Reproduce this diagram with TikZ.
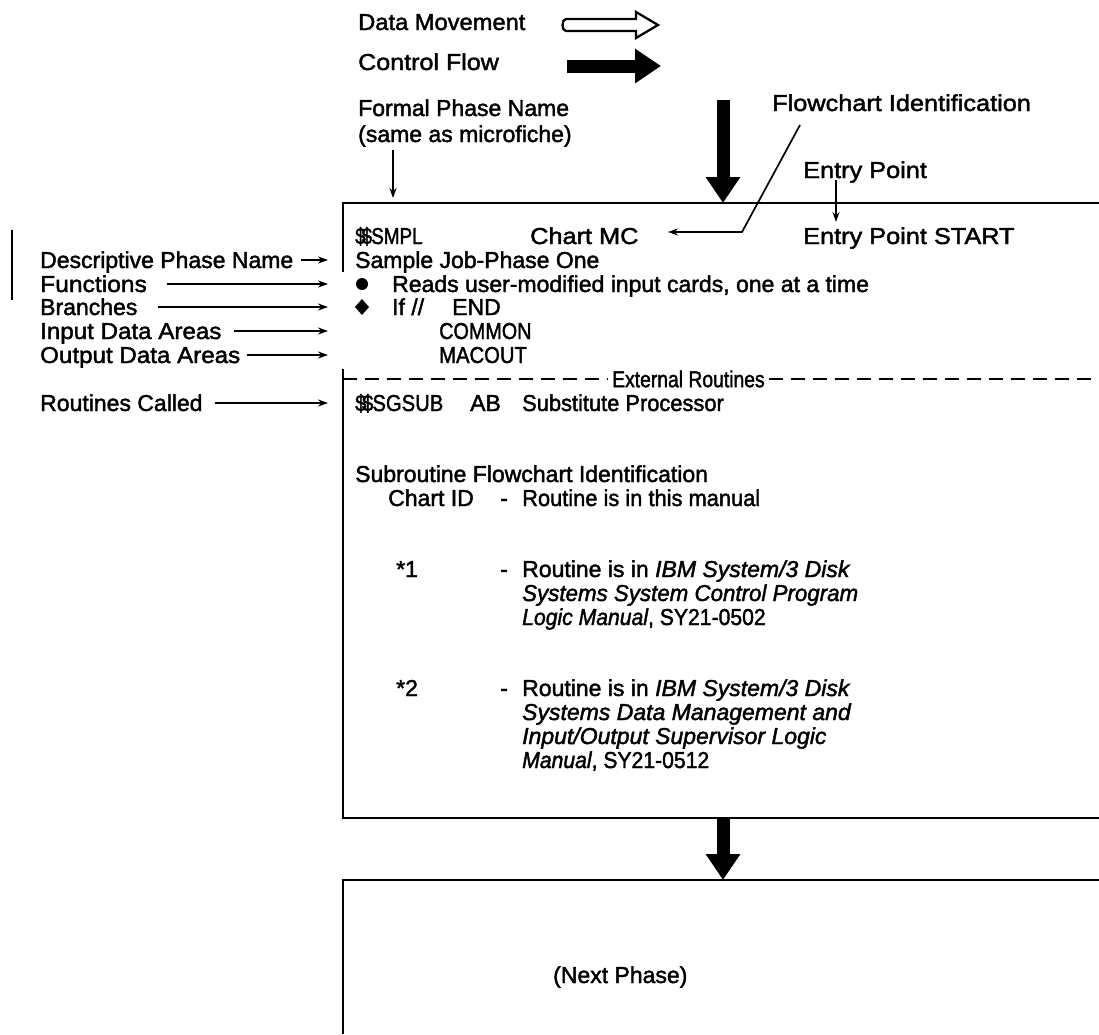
\documentclass[tikz,border=0pt]{standalone}
\usepackage{fontspec}
\setmainfont{Liberation Sans}[FakeBold=1.8]
\usetikzlibrary{arrows.meta}
% horizontally squeezed or stretched text
\newcommand{\hs}[2]{\scalebox{#1}[1]{#2}}
% two dollar signs set close together
\newcommand{\dd}{\$\kern-5pt\$\kern-1pt}
\begin{document}
\begin{tikzpicture}[x=1pt,y=-1pt,
  txt/.style={anchor=base west, inner sep=0pt, font=\fontsize{23}{27}\selectfont},
  edge/.style={line width=2.3pt},
  ptr/.style={line width=1.7pt, -{Stealth[length=10pt,width=7pt]}},
  fat/.style={line width=13pt, -{Triangle[length=26pt,width=33pt]}},
]
\useasboundingbox (0,0) rectangle (1099,1034);

% ---- legend ----
\node[txt] (dm) at (358,30) {\hs{1.03}{Data Movement}};
\node[txt] (cf) at (358,70) {\hs{1.09}{Control Flow}};
\draw[line width=2.3pt, line join=miter]
  (566,19) -- (636,19) -- (636,12) -- (658,25) -- (636,38) -- (636,31) -- (566,31)
  to[out=180,in=180] cycle;
\coordinate (cfa) at (567,66);
\coordinate (cfb) at (661,66);
\draw[fat] (cfa) -- (cfb);

% ---- labels above the chart ----
\node[txt] (fpn) at (358,116) {Formal Phase Name};
\node[txt] (fpn2) at (358,142) {(same as microfiche)};
\node[txt] (fci) at (772,111) {\hs{1.1}{Flowchart Identification}};
\node[txt] (ep) at (803,178) {\hs{1.1}{Entry Point}};

% ---- chart box ----
\coordinate (b1nw) at (343,203);
\coordinate (b1ne) at (1099,203);
\coordinate (b1sw) at (343,818);
\coordinate (b1se) at (1099,818);
\draw[edge] (b1ne) -- (b1nw) -- (343,272);
\draw[edge] (343,369) -- (b1sw) -- (b1se);
\draw[edge] (12,230) -- (12,300);

% entry into the chart
\coordinate (inA) at (723,100);
\coordinate (inB) at (723,203);
\draw[fat] (inA) -- (inB);

% ---- chart contents ----
\node[txt] (smpl) at (355,244) {\hs{0.82}{\dd SMPL}};
\node[txt] (cmc) at (530,244) {\hs{1.1}{Chart MC}};
\node[txt] (eps) at (803,244) {\hs{1.1}{Entry Point START}};
\node[txt] (sjp) at (355,268) {Sample Job-Phase One};
\fill (362,284) circle (6);
\node[txt] (fn) at (392,292) {Reads user-modified input cards, one at a time};
\fill (362,299) -- (369,307) -- (362,315) -- (355,307) -- cycle;
\node[txt] (br) at (392,315) {If //};
\node[txt] (brend) at (452,315) {END};
\node[txt] (ida) at (439,339) {\hs{0.86}{COMMON}};
\node[txt] (oda) at (439,363) {\hs{0.88}{MACOUT}};

\node[txt, anchor=west] (ext) at (612,379) {\hs{0.84}{External Routines}};
\draw[line width=1.7pt, dash pattern=on 14pt off 8pt] (343,379) -- ([xshift=-4pt]ext.west);
\draw[line width=1.7pt, dash pattern=on 14pt off 8pt] ([xshift=4pt]ext.east) -- (1099,379);

\node[txt] (sg) at (355,411) {\hs{0.88}{\dd SGSUB}};
\node[txt] (ab) at (470,411) {AB};
\node[txt] (sp) at (522,411) {\hs{0.95}{Substitute Processor}};

\node[txt] (sfi) at (355,482) {Subroutine Flowchart Identification};
\node[txt] (cid) at (388,506) {Chart ID};
\node[txt] (d0) at (500,506) {-};
\node[txt] (r0) at (522,506) {\hs{0.95}{Routine is in this manual}};

\node[txt] (s1) at (396,577) {*1};
\node[txt] (d1) at (500,577) {-};
\node[txt] (r1a) at (522,577) {Routine is in \textit{IBM System/3 Disk}};
\node[txt] (r1b) at (522,601) {\hs{0.97}{\textit{Systems System Control Program}}};
\node[txt] (r1c) at (522,625) {\hs{0.92}{\textit{Logic Manual}, SY21-0502}};

\node[txt] (s2) at (396,696) {*2};
\node[txt] (d2) at (500,696) {-};
\node[txt] (r2a) at (522,696) {Routine is in \textit{IBM System/3 Disk}};
\node[txt] (r2b) at (522,720) {\textit{Systems Data Management and}};
\node[txt] (r2c) at (522,744) {\textit{Input/Output Supervisor Logic}};
\node[txt] (r2d) at (522,768) {\hs{0.92}{\textit{Manual}, SY21-0512}};

% ---- next phase ----
\coordinate (b2nw) at (343,880);
\coordinate (b2ne) at (1099,880);
\draw[edge] (b2ne) -- (b2nw) -- (343,1034);
\coordinate (nxA) at (723,818);
\coordinate (nxB) at (723,880);
\draw[fat] (nxA) -- (nxB);
\node[txt] (np) at (553,983) {(Next Phase)};

% ---- callouts on the left ----
\node[txt] (l1) at (40,268) {Descriptive Phase Name};
\node[txt] (l2) at (40,292) {\hs{1.07}{Functions}};
\node[txt] (l3) at (40,315) {Branches};
\node[txt] (l4) at (40,339) {\hs{1.05}{Input Data Areas}};
\node[txt] (l5) at (40,363) {\hs{1.05}{Output Data Areas}};
\node[txt] (l6) at (40,411) {Routines Called};
\coordinate (t1) at (328,260);
\coordinate (t2) at (328,284);
\coordinate (t3) at (328,307);
\coordinate (t4) at (328,331);
\coordinate (t5) at (328,355);
\coordinate (t6) at (328,403);
\draw[ptr] ([xshift=7pt]l1.east |- t1) -- (t1);
\draw[ptr] ([xshift=20pt]l2.east |- t2) -- (t2);
\draw[ptr] ([xshift=20pt]l3.east |- t3) -- (t3);
\draw[ptr] ([xshift=12pt]l4.east |- t4) -- (t4);
\draw[ptr] ([xshift=7pt]l5.east |- t5) -- (t5);
\draw[ptr] ([xshift=12pt]l6.east |- t6) -- (t6);

% ---- callouts above ----
\coordinate (fpnTip) at (393,198);
\draw[ptr] (393,150) -- (fpnTip);
\coordinate (fciTip) at (668,232);
\draw[ptr] (800,125) -- (742,232) -- (fciTip);
\coordinate (epTip) at (836,222);
\draw[ptr] (836,180) -- (epTip);
\end{tikzpicture}
\end{document}
